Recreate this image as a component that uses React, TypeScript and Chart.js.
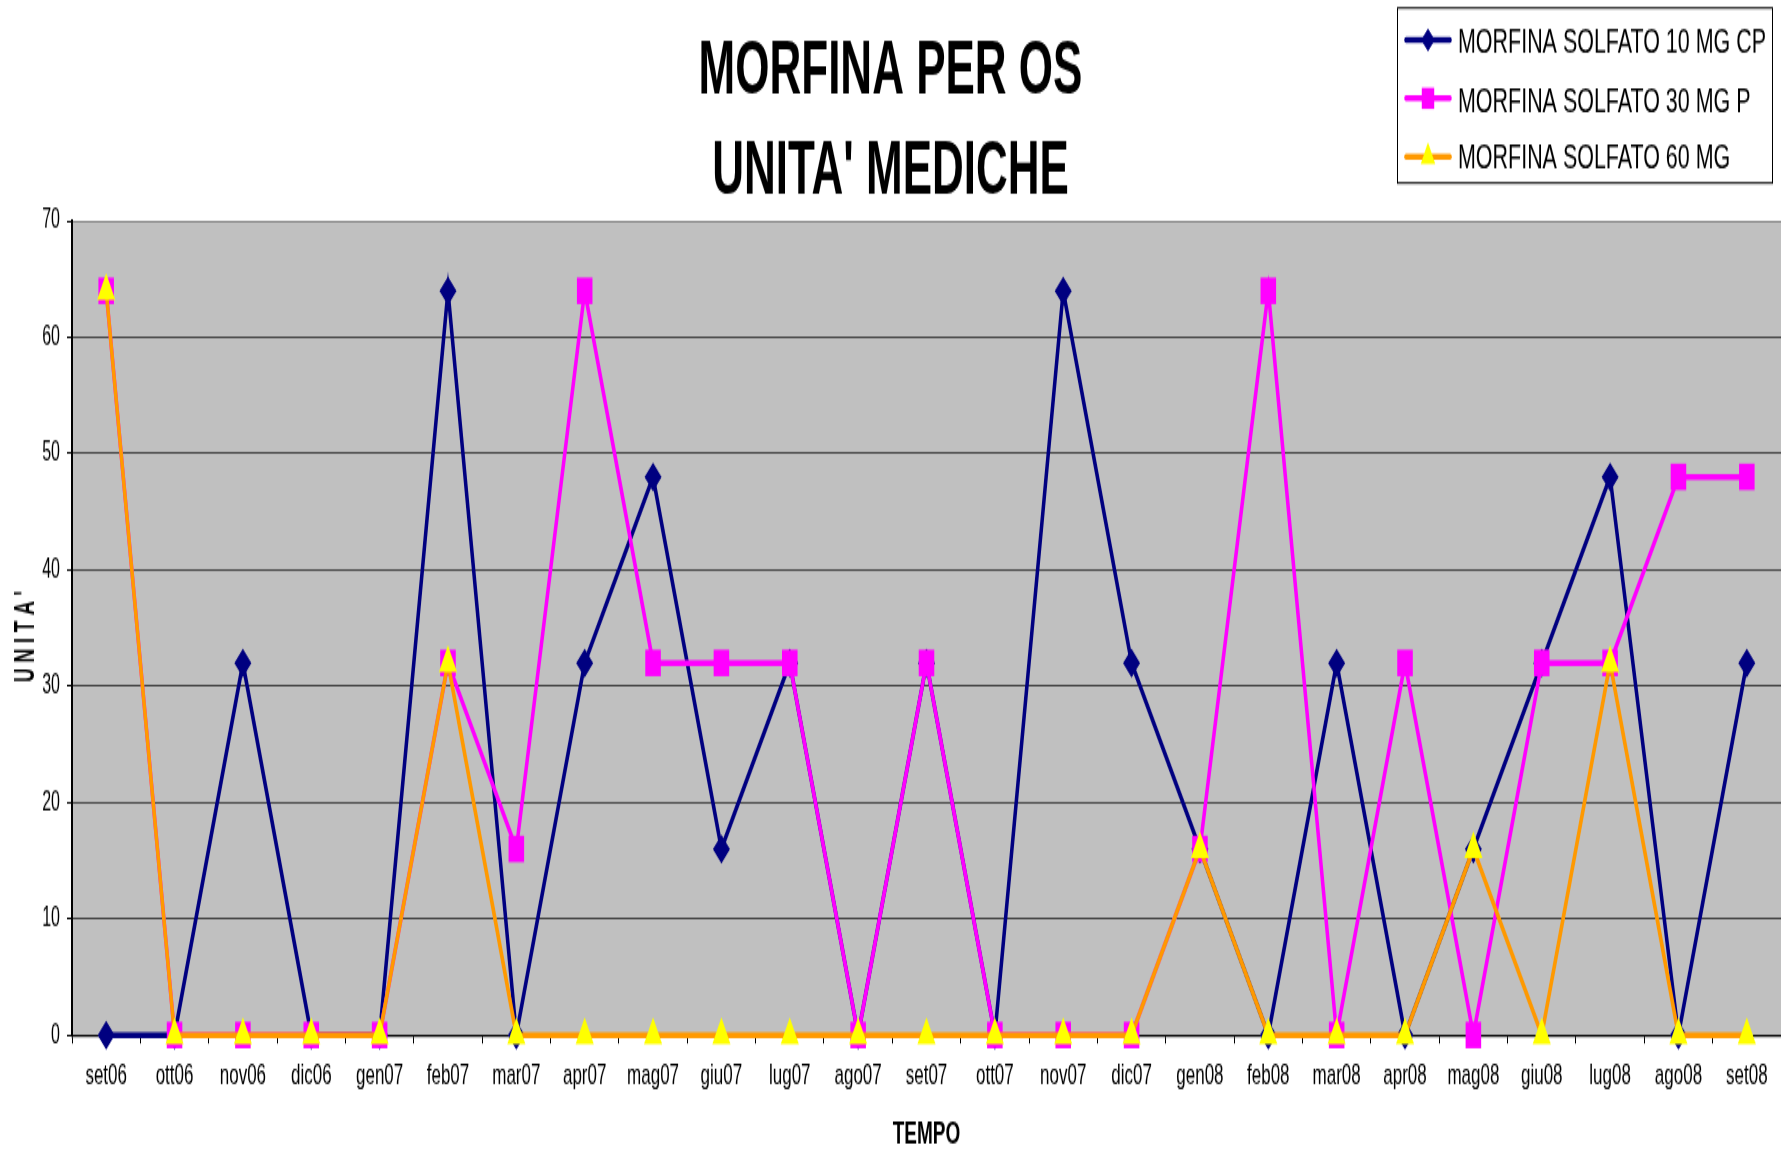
import React, { useEffect, useRef } from 'react';
import { Chart, registerables } from 'chart.js';

Chart.register(...registerables);

// ---- data ----
const months = [
  'set06', 'ott06', 'nov06', 'dic06', 'gen07', 'feb07', 'mar07', 'apr07', 'mag07',
  'giu07', 'lug07', 'ago07', 'set07', 'ott07', 'nov07', 'dic07', 'gen08', 'feb08',
  'mar08', 'apr08', 'mag08', 'giu08', 'lug08', 'ago08', 'set08',
];
const morfina10 = [0, 0, 32, 0, 0, 64, 0, 32, 48, 16, 32, 0, 32, 0, 64, 32, 16, 0, 32, 0, 16, 32, 48, 0, 32];
const morfina30 = [64, 0, 0, 0, 0, 32, 16, 64, 32, 32, 32, 0, 32, 0, 0, 0, 16, 64, 0, 32, 0, 32, 32, 48, 48];
const morfina60 = [64, 0, 0, 0, 0, 32, 0, 0, 0, 0, 0, 0, 0, 0, 0, 0, 16, 0, 0, 0, 16, 0, 32, 0, 0];
const seriesNames = ['MORFINA SOLFATO 10 MG CP', 'MORFINA SOLFATO 30 MG P', 'MORFINA SOLFATO 60 MG'];
const chartTitle = ['MORFINA PER OS', "UNITA' MEDICHE"];
const xTitle = 'TEMPO';
const yTitle = "U N I T A '";
const yMin = 0;
const yMax = 70;
const yStep = 10;

// ---- layout ----
const W = 1781;
const H = 678; // drawn height, stretched to 1152 on screen (like the original picture)
const K = 1152 / H;
const FONT = "'Liberation Sans', Arial, sans-serif";

function drawMarker(ctx: CanvasRenderingContext2D, style: string, x: number, y: number, r: number, color: string) {
  ctx.fillStyle = color;
  ctx.beginPath();
  if (style === 'rectRot') {
    ctx.moveTo(x, y - r);
    ctx.lineTo(x + r, y);
    ctx.lineTo(x, y + r);
    ctx.lineTo(x - r, y);
  } else if (style === 'rect') {
    const s = r * Math.SQRT1_2;
    ctx.rect(x - s, y - s, 2 * s, 2 * s);
  } else {
    ctx.moveTo(x, y - r);
    ctx.lineTo(x + r * 0.866, y + r / 2);
    ctx.lineTo(x - r * 0.866, y + r / 2);
  }
  ctx.closePath();
  ctx.fill();
}

const plotBgPlugin = {
  id: 'plotBg',
  beforeDraw(chart: any) {
    const { ctx, chartArea } = chart;
    ctx.save();
    ctx.fillStyle = '#ffffff';
    ctx.fillRect(0, 0, chart.width, chart.height);
    ctx.fillStyle = '#C0C0C0';
    ctx.fillRect(chartArea.left, chartArea.top, chartArea.right - chartArea.left, chartArea.bottom - chartArea.top);
    ctx.restore();
  },
};

const yTitlePlugin = {
  id: 'yTitleSqueezed',
  afterDraw(chart: any) {
    const ctx: CanvasRenderingContext2D = chart.ctx;
    ctx.save();
    ctx.translate(26, 636.5 / K);
    ctx.rotate(-Math.PI / 2);
    ctx.font = `bold 30px ${FONT}`;
    const natural = ctx.measureText(yTitle).width;
    ctx.scale(91 / K / natural, 1);
    ctx.fillStyle = '#000000';
    ctx.textAlign = 'center';
    ctx.textBaseline = 'middle';
    ctx.fillText(yTitle, 0, 0);
    ctx.restore();
  },
};

const boxLegendPlugin = {
  id: 'boxLegend',
  afterDraw(chart: any) {
    const ctx: CanvasRenderingContext2D = chart.ctx;
    ctx.save();
    const x0 = 1397.5, y0 = 8 / K, x1 = 1772.5, y1 = 183 / K;
    ctx.fillStyle = '#ffffff';
    ctx.fillRect(x0, y0, x1 - x0, y1 - y0);
    ctx.strokeStyle = '#000000';
    ctx.lineWidth = 1;
    ctx.strokeRect(x0, y0, x1 - x0, y1 - y0);
    const rows = [40 / K, 98.3 / K, 156.7 / K];
    const baselines = [53.3 / K, 111.3 / K, 169 / K];
    ctx.font = `20.5px ${FONT}`;
    const sx = 308 / ctx.measureText(chart.data.datasets[0].label).width;
    chart.data.datasets.forEach((ds: any, i: number) => {
      const y = rows[i];
      ctx.strokeStyle = ds.borderColor;
      ctx.lineWidth = 3.5;
      ctx.lineCap = 'round';
      ctx.beginPath();
      ctx.moveTo(1406, y);
      ctx.lineTo(1450, y);
      ctx.stroke();
      drawMarker(ctx, ds.pointStyle, 1428, y, ds.pointRadius * 0.8, ds.pointBackgroundColor);
      ctx.save();
      ctx.translate(1458, baselines[i]);
      ctx.scale(sx, 1);
      ctx.fillStyle = '#000000';
      ctx.font = `20.5px ${FONT}`;
      ctx.textBaseline = 'alphabetic';
      ctx.textAlign = 'left';
      ctx.fillText(ds.label, 0, 0);
      ctx.restore();
    });
    ctx.restore();
  },
};

export default function App() {
  const canvasRef = useRef<HTMLCanvasElement | null>(null);

  useEffect(() => {
    if (!canvasRef.current) return;
    Chart.defaults.font.family = FONT;
    const plotTop = 221 / K;
    const plotBottom = 1035 / K;
    const titleLine = 100 / K;
    const titleCenter1 = 69.2 / K + 2.5;
    const titlePadTop = titleCenter1 - titleLine / 2;
    const titlePadBottom = plotTop - titlePadTop - 2 * titleLine;
    const chart = new Chart(canvasRef.current, {
      type: 'line',
      data: {
        labels: months,
        datasets: [
          {
            label: seriesNames[0],
            data: morfina10,
            borderColor: '#000080',
            backgroundColor: '#000080',
            pointStyle: 'rectRot',
            pointRadius: 8.5,
            pointBackgroundColor: '#000080',
            pointBorderColor: '#000080',
            pointBorderWidth: 0,
            borderWidth: 3.5,
            tension: 0,
            order: 3,
            clip: false as any,
          },
          {
            label: seriesNames[1],
            data: morfina30,
            borderColor: '#FF00FF',
            backgroundColor: '#FF00FF',
            pointStyle: 'rect',
            pointRadius: 11,
            pointBackgroundColor: '#FF00FF',
            pointBorderColor: '#FF00FF',
            pointBorderWidth: 0,
            borderWidth: 3.5,
            tension: 0,
            order: 2,
            clip: false as any,
          },
          {
            label: seriesNames[2],
            data: morfina60,
            borderColor: '#FF9900',
            backgroundColor: '#FFFF00',
            pointStyle: 'triangle',
            pointRadius: 10.5,
            pointBackgroundColor: '#FFFF00',
            pointBorderColor: '#FFFF00',
            pointBorderWidth: 0,
            borderWidth: 3.5,
            tension: 0,
            order: 1,
            clip: false as any,
          },
        ],
      },
      options: {
        responsive: false,
        maintainAspectRatio: false,
        animation: false,
        devicePixelRatio: 1,
        layout: { padding: 0, autoPadding: false },
        plugins: {
          legend: { display: false },
          tooltip: { enabled: false },
          title: {
            display: true,
            text: chartTitle,
            color: '#000000',
            font: { size: 44, weight: 'bold', lineHeight: titleLine / 44 },
            padding: { top: titlePadTop, bottom: titlePadBottom },
          },
        },
        scales: {
          x: {
            offset: true,
            ticks: { color: '#000000', font: { size: 17 }, padding: 9, maxRotation: 0, autoSkip: false },
            grid: { display: true, drawOnChartArea: false, drawTicks: true, tickLength: 5, offset: true, color: '#000000' },
            border: { display: true, color: '#000000', width: 1.2 },
            title: {
              display: true,
              text: xTitle,
              color: '#000000',
              font: { size: 19, weight: 'bold' },
              padding: { top: 0, bottom: -1.5 },
            },
            afterFit: (s: any) => { s.height = H - plotBottom; },
          },
          y: {
            min: yMin,
            max: yMax,
            ticks: { stepSize: yStep, color: '#000000', font: { size: 16 }, padding: 7 },
            grid: {
              color: (c: any) => (c.tick && c.tick.value === yMax ? '#808080' : '#404040'),
              lineWidth: 1,
              drawTicks: true,
              tickLength: 5,
              tickColor: '#000000',
            },
            border: { display: true, color: '#000000', width: 2 },
            title: { display: false, text: yTitle },
            afterFit: (s: any) => { s.width = 72; },
          },
        },
      },
      plugins: [plotBgPlugin, yTitlePlugin, boxLegendPlugin],
    });
    return () => chart.destroy();
  }, []);

  return (
    <div style={{ position: 'fixed', left: 0, top: 0, width: W, height: 1152, background: '#ffffff' }}>
      <canvas
        ref={canvasRef}
        width={W}
        height={H}
        style={{ display: 'block', width: `${W}px`, height: '1152px' }}
      />
    </div>
  );
}
